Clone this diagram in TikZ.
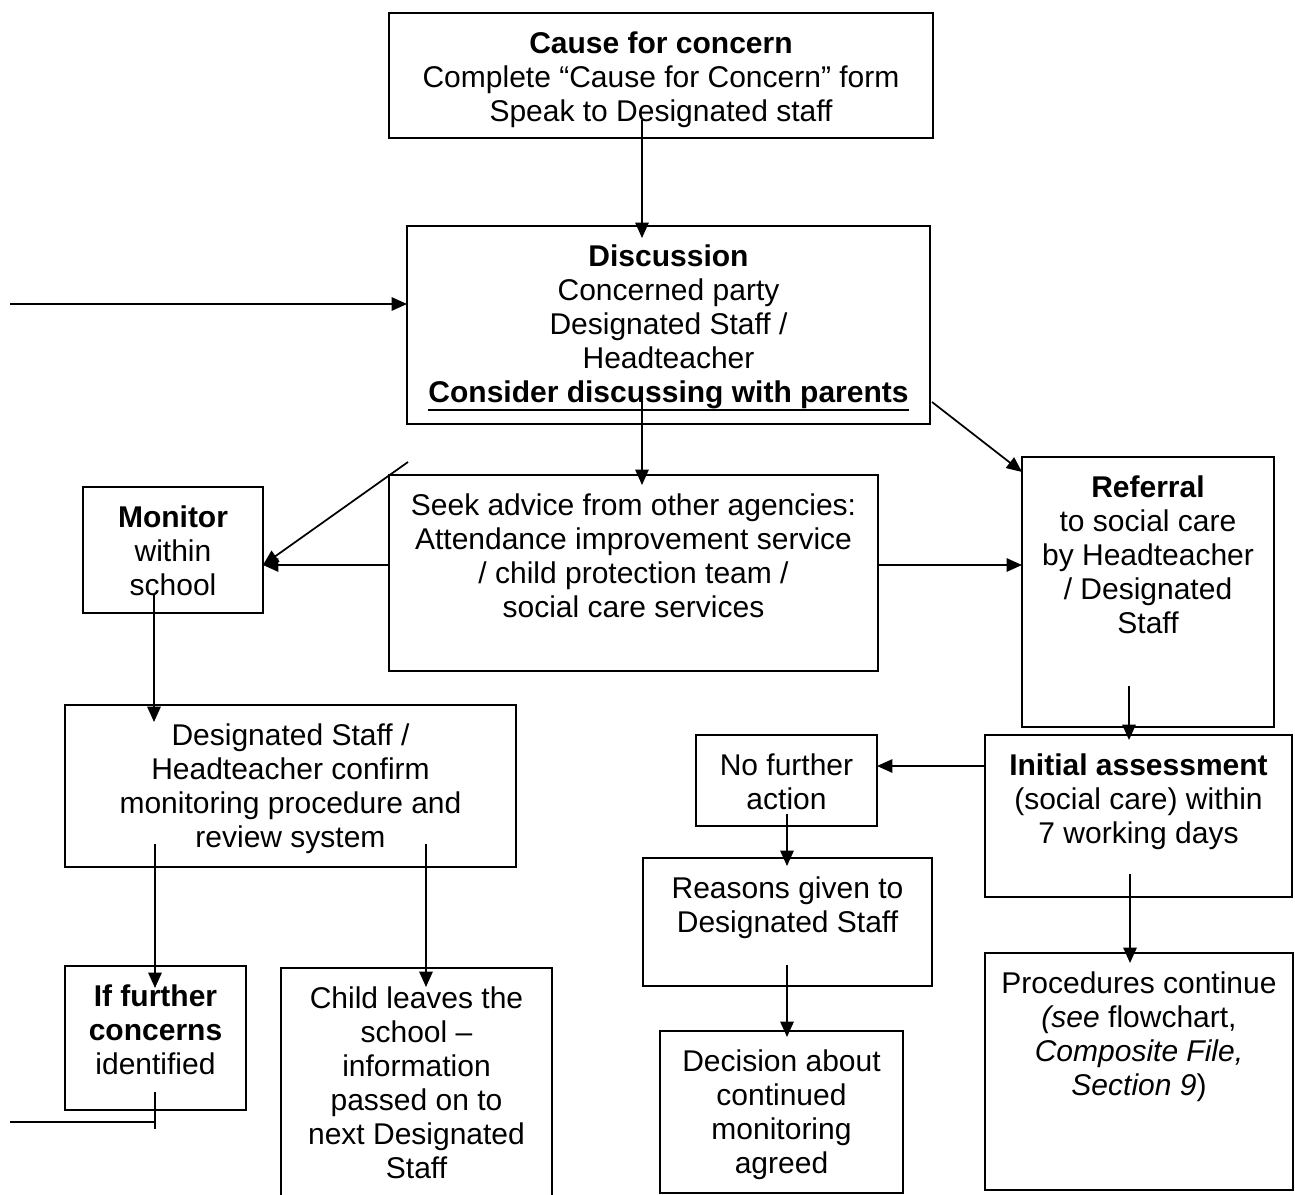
\documentclass[tikz,border=0pt]{standalone}
\usepackage{fontspec}
\setmainfont{Liberation Sans}
\usetikzlibrary{arrows.meta,calc}
\newcommand\thickul[1]{\leavevmode\vtop{\hbox{#1}\kern0.6pt\hrule height 1.6pt}}
\newcommand\flowbox[6]{%
  \node[box, anchor=north west, minimum width={(#4-#2)*0.75pt}, minimum height={(#5-#3)*0.75pt}] (#1) at (#2,#3) {};
  \node[txt] (#1-t) at ($(#1.north)+(0,18)$) {#6};}
\begin{document}
\begin{tikzpicture}[x=0.75pt,y=-0.75pt,
  box/.style={draw, rectangle, line width=1.4pt, inner sep=0pt, outer sep=0pt},
  txt/.style={font=\fontsize{22.5}{25.5}\selectfont, align=center, inner sep=0pt, anchor=north},
  arr/.style={line width=1.3pt, -{Triangle[length=11.5pt,width=10pt]}},
  ln/.style={line width=1.3pt}]
\useasboundingbox (0,0) rectangle (1295,1195);
\clip (0,0) rectangle (1295,1195);
% boxes
\flowbox{cause}{389}{13}{933}{138}{\textbf{Cause for concern}\\Complete “Cause for Concern” form\\Speak to Designated staff}
\flowbox{disc}{407}{226}{930}{424}{\textbf{Discussion}\\Concerned party\\Designated Staff /\\Headteacher\\\thickul{\textbf{Consider discussing with parents}}}
\flowbox{seek}{389}{475}{878}{671}{Seek advice from other agencies:\\Attendance improvement service\\/ child protection team /\\social care services}
\flowbox{monitor}{83}{487}{263}{613}{\textbf{Monitor}\\within\\school}
\flowbox{referral}{1022}{457}{1274}{727}{\textbf{Referral}\\to social care\\by Headteacher\\/ Designated\\Staff}
\flowbox{dsconf}{65}{705}{516}{867}{Designated Staff /\\Headteacher confirm\\monitoring procedure and\\review system}
\flowbox{nfa}{696}{735}{877}{826}{No further\\action}
\flowbox{init}{985}{735}{1292}{897}{\textbf{Initial assessment}\\(social care) within\\7 working days}
\flowbox{reasons}{643}{858}{932}{986}{Reasons given to\\Designated Staff}
\flowbox{proc}{985}{953}{1293}{1190}{Procedures continue\\\textit{(see} flowchart,\\\textit{Composite File,}\\\textit{Section 9})}
\flowbox{iff}{65}{966}{246}{1110}{\textbf{If further}\\\textbf{concerns}\\identified}
\flowbox{child}{281}{968}{552}{1205}{Child leaves the\\school –\\information\\passed on to\\next Designated\\Staff}
\flowbox{decision}{660}{1031}{903}{1193}{Decision about\\continued\\monitoring\\agreed}
% free ends and start points
\coordinate (inL) at (10,304);
\coordinate (s1) at (642,120);
\coordinate (s3) at (642,400);
\coordinate (s4) at (932,402);
\coordinate (s5) at (408,462);
\coordinate (s8) at (154,595);
\coordinate (s9) at (1129,686);
\coordinate (s11) at (787,814);
\coordinate (s12) at (787,965);
\coordinate (s13) at (1130,874);
\coordinate (s14) at (155,844);
\coordinate (s15) at (426,844);
\coordinate (e1) at (155,1092);
\coordinate (e2) at (155,1129);
\coordinate (outL) at (10,1122);
% connectors
\draw[arr] (s1) -- ($(s1 |- disc.north)+(0,12)$);
\draw[arr] (inL) -- (inL -| disc.west);
\draw[arr] (s3) -- ($(s3 |- seek.north)+(0,10)$);
\draw[arr] (s4) -- ($(referral.north west)+(0,15)$);
\draw[arr] (s5) -- ($(monitor.north east)+(0,78)$);
\draw[arr] ($(seek.north west)+(0,90)$) -- ($(monitor.north east)+(0,78)$);
\draw[arr] ($(seek.north east)+(0,90)$) -- ($(referral.north west)+(0,108)$);
\draw[arr] (s8) -- ($(s8 |- dsconf.north)+(0,17)$);
\draw[arr] (s9) -- ($(s9 |- init.north)+(0,5)$);
\draw[arr] ($(init.north west)+(0,31)$) -- ($(nfa.north east)+(0,31)$);
\draw[arr] (s11) -- ($(s11 |- reasons.north)+(0,8)$);
\draw[arr] (s12) -- ($(s12 |- decision.north)+(0,6)$);
\draw[arr] (s13) -- ($(s13 |- proc.north)+(0,10)$);
\draw[arr] (s14) -- ($(s14 |- iff.north)+(0,22)$);
\draw[arr] (s15) -- ($(s15 |- child.north)+(0,19)$);
\draw[ln] (e1) -- (e2);
\draw[ln] (outL) -- (outL -| e1);
\end{tikzpicture}
\end{document}
